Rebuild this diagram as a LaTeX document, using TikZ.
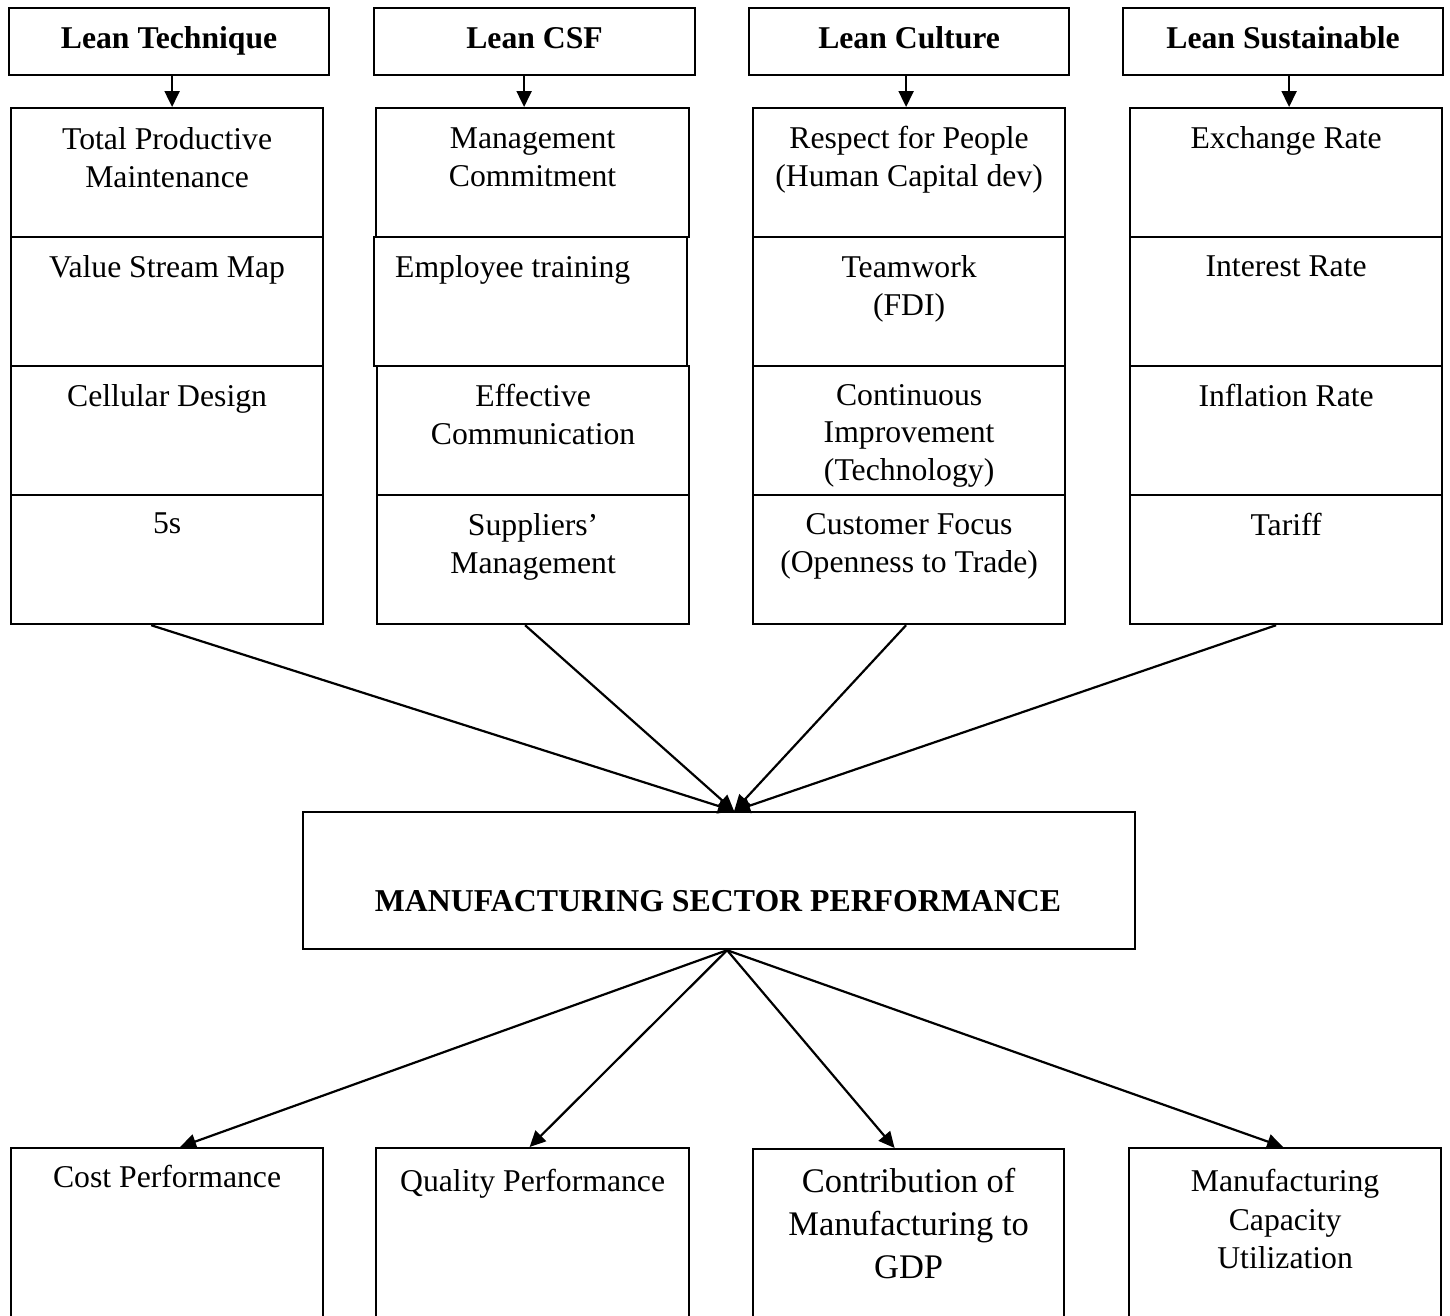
\documentclass[tikz,border=0pt]{standalone}
\usepackage{fontspec}
\setmainfont{Liberation Serif}
\usetikzlibrary{arrows.meta}
\begin{document}
\begin{tikzpicture}[x=1pt,y=-1pt,
  box/.style={draw, line width=2.2pt, rectangle, inner sep=0pt, anchor=north west},
  head/.style={box, minimum width=320pt, minimum height=67pt, text height=21.5pt, text depth=7pt, font=\fontsize{31.7pt}{38pt}\selectfont\bfseries},
  cellbox/.style={box, minimum width=312pt, minimum height=129pt},
  outbox/.style={box, minimum width=312pt, minimum height=220pt},
  txt/.style={anchor=north, align=center, inner sep=0pt, font=\fontsize{31.7pt}{38pt}\selectfont},
  arr/.style={line width=2.2pt, -{Triangle[length=16pt,width=15pt]}}]
\useasboundingbox (0,0) rectangle (1450,1315);
\fill[white] (0,0) rectangle (1450,1315);
% headers
\node[head] (h1) at (8,7) {Lean Technique};
\node[head, minimum width=321pt] (h2) at (373,7) {Lean CSF};
\node[head] (h3) at (748,7) {Lean Culture};
\node[head] (h4) at (1122,7) {Lean Sustainable};
% column 1
\node[cellbox] (c11) at (10,107) {};
\node[cellbox] (c12) at (10,236) {};
\node[cellbox] (c13) at (10,365) {};
\node[cellbox] (c14) at (10,494) {};
\node[txt] (t11) at ([yshift=-20pt]c11.north) {Total Productive\\Maintenance};
\node[txt] (t12) at ([yshift=-19pt]c12.north) {Value Stream Map};
\node[txt] (t13) at ([yshift=-19pt]c13.north) {Cellular Design};
\node[txt] (t14) at ([yshift=-19pt]c14.north) {5s};
% column 2
\node[cellbox, minimum width=313pt] (c21) at (375,107) {};
\node[cellbox, minimum width=313pt] (c22) at (373,236) {};
\node[cellbox] (c23) at (376,365) {};
\node[cellbox] (c24) at (376,494) {};
\node[txt] (t21) at ([yshift=-21pt]c21.north) {Management\\Commitment};
\node[txt, anchor=north west] (t22) at (395,255) {Employee training};
\node[txt] (t23) at ([yshift=-19pt]c23.north) {Effective\\Communication};
\node[txt] (t24) at ([yshift=-19pt]c24.north) {Suppliers’\\Management};
% column 3
\node[cellbox] (c31) at (752,107) {};
\node[cellbox] (c32) at (752,236) {};
\node[cellbox] (c33) at (752,365) {};
\node[cellbox] (c34) at (752,494) {};
\node[txt] (t31) at ([yshift=-19pt]c31.north) {Respect for People\\(Human Capital dev)};
\node[txt] (t32) at ([yshift=-19pt]c32.north) {Teamwork\\(FDI)};
\node[txt, font=\fontsize{31.7pt}{37.5pt}\selectfont] (t33) at ([yshift=-19pt]c33.north) {Continuous\\Improvement\\(Technology)};
\node[txt] (t34) at ([yshift=-19pt]c34.north) {Customer Focus\\(Openness to Trade)};
% column 4
\node[cellbox] (c41) at (1129,107) {};
\node[cellbox] (c42) at (1129,236) {};
\node[cellbox] (c43) at (1129,365) {};
\node[cellbox] (c44) at (1129,494) {};
\node[txt] (t41) at ([yshift=-19pt]c41.north) {Exchange Rate};
\node[txt] (t42) at ([yshift=-20pt]c42.north) {Interest Rate};
\node[txt] (t43) at ([yshift=-19pt]c43.north) {Inflation Rate};
\node[txt] (t44) at ([yshift=-19pt]c44.north) {Tariff};
% header arrows
\draw[arr] ([xshift=3pt]h1.south) -- ([xshift=5pt]c11.north);
\draw[arr] ([xshift=-10.5pt]h2.south) -- ([xshift=-8.5pt]c21.north);
\draw[arr] ([xshift=-3pt]h3.south) -- ([xshift=-3pt]c31.north);
\draw[arr] ([xshift=6pt]h4.south) -- ([xshift=3pt]c41.north);
% central box
\node[box, minimum width=832pt, minimum height=137pt] (msp) at (302,811) {};
\node[anchor=base, inner sep=0pt, font=\fontsize{31.8pt}{38pt}\selectfont\bfseries] (mspt) at (718,911.5) {MANUFACTURING SECTOR PERFORMANCE};
% converging arrows
\draw[arr] ([xshift=-16pt]c14.south) -- ([xshift=15pt]msp.north);
\draw[arr] ([xshift=-8pt]c24.south) -- ([xshift=15pt]msp.north);
\draw[arr] ([xshift=-3pt]c34.south) -- ([xshift=15pt]msp.north);
\draw[arr] ([xshift=-10pt]c44.south) -- ([xshift=15pt]msp.north);
% output boxes
\node[outbox] (o1) at (10,1147) {};
\node[outbox, minimum width=313pt] (o2) at (375,1147) {};
\node[outbox, minimum width=311pt] (o3) at (752,1148) {};
\node[outbox] (o4) at (1128,1147) {};
\node[txt] (u1) at ([yshift=-18pt]o1.north) {Cost Performance};
\node[txt] (u2) at ([yshift=-22pt]o2.north) {Quality Performance};
\node[txt, font=\fontsize{34.5pt}{43pt}\selectfont] (u3) at ([yshift=-20pt]o3.north) {Contribution of\\Manufacturing to\\GDP};
\node[txt, font=\fontsize{31.7pt}{38.5pt}\selectfont] (u4) at ([yshift=-22pt]o4.north) {Manufacturing\\Capacity\\Utilization};
% diverging arrows
\draw[arr] ([xshift=8pt]msp.south) -- ([xshift=13pt]o1.north);
\draw[arr] ([xshift=8pt]msp.south) -- ([xshift=-3pt]o2.north);
\draw[arr] ([xshift=8pt]msp.south) -- ([xshift=-14pt]o3.north);
\draw[arr] ([xshift=8pt]msp.south) -- ([xshift=-2pt]o4.north);
\end{tikzpicture}
\end{document}
